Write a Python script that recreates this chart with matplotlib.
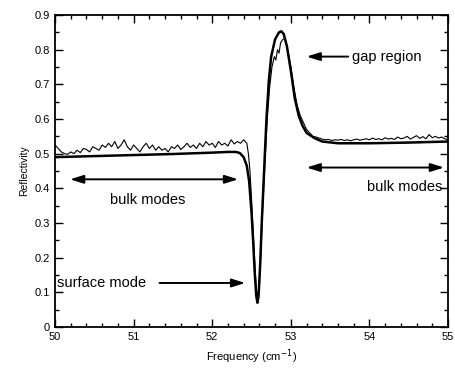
import numpy as np
import matplotlib
matplotlib.use("Agg")
import matplotlib.pyplot as plt
from matplotlib.ticker import MultipleLocator

plt.rcParams['font.family'] = ['Liberation Sans', 'DejaVu Sans']

# Theory curve (smooth)
theory_f = [50.0, 50.5, 51.0, 51.5, 52.0, 52.2, 52.3, 52.35, 52.40, 52.44, 52.47,
            52.50, 52.52, 52.54, 52.56, 52.575, 52.59, 52.61, 52.63, 52.66, 52.69,
            52.72, 52.75, 52.80, 52.85, 52.88, 52.91, 52.95, 53.00, 53.05, 53.10,
            53.15, 53.20, 53.30, 53.40, 53.60, 54.0, 54.5, 55.0]
theory_r = [0.490, 0.493, 0.496, 0.499, 0.503, 0.505, 0.505, 0.502, 0.490, 0.465, 0.42,
            0.33, 0.25, 0.16, 0.09, 0.07, 0.09, 0.18, 0.30, 0.45, 0.60,
            0.71, 0.78, 0.83, 0.850, 0.853, 0.845, 0.81, 0.74, 0.66, 0.61,
            0.58, 0.56, 0.545, 0.535, 0.530, 0.530, 0.532, 0.535]

# Experimental curve, low-frequency segment (50.00 .. 52.40, step 0.04)
exp_low_start, exp_low_step = 50.0, 0.04
exp_low_r = [0.525, 0.515, 0.505, 0.500, 0.498, 0.505, 0.500, 0.510, 0.503, 0.515,
             0.512, 0.505, 0.520, 0.515, 0.510, 0.525, 0.518, 0.530, 0.520, 0.535,
             0.515, 0.525, 0.540, 0.520, 0.510, 0.525, 0.515, 0.505, 0.520, 0.530,
             0.515, 0.525, 0.510, 0.520, 0.510, 0.515, 0.505, 0.520, 0.515, 0.525,
             0.512, 0.520, 0.530, 0.518, 0.525, 0.515, 0.530, 0.520, 0.535, 0.525,
             0.530, 0.518, 0.535, 0.525, 0.530, 0.522, 0.540, 0.528, 0.535, 0.530,
             0.540]

# Experimental curve, resonance segment
exp_mid_f = [52.44, 52.46, 52.48, 52.50, 52.52, 52.54, 52.56, 52.58, 52.60, 52.62,
             52.64, 52.67, 52.70, 52.73, 52.76, 52.79, 52.81, 52.83, 52.85, 52.87,
             52.90, 52.93, 52.96, 53.00, 53.04, 53.08, 53.12, 53.16, 53.20, 53.24,
             53.28]
exp_mid_r = [0.53, 0.50, 0.45, 0.37, 0.28, 0.19, 0.11, 0.09, 0.12, 0.22,
             0.33, 0.47, 0.60, 0.69, 0.75, 0.78, 0.77, 0.80, 0.79, 0.82,
             0.83, 0.83, 0.80, 0.75, 0.69, 0.64, 0.61, 0.59, 0.57, 0.56,
             0.55]

# Experimental curve, high-frequency segment (53.32 .. 55.00, step 0.04)
exp_high_start, exp_high_step = 53.32, 0.04
exp_high_r = [0.548, 0.545, 0.542, 0.540, 0.541, 0.538, 0.540, 0.539, 0.541, 0.538,
              0.540, 0.537, 0.540, 0.542, 0.539, 0.541, 0.543, 0.540, 0.545, 0.541,
              0.543, 0.540, 0.546, 0.542, 0.544, 0.541, 0.548, 0.543, 0.545, 0.550,
              0.542, 0.547, 0.552, 0.544, 0.549, 0.543, 0.555, 0.546, 0.550, 0.545,
              0.548, 0.543, 0.540]

x_ticks = [50, 51, 52, 53, 54, 55]
y_ticks = [0, 0.1, 0.2, 0.3, 0.4, 0.5, 0.6, 0.7, 0.8, 0.9]

exp_low_f = exp_low_start + exp_low_step * np.arange(len(exp_low_r))
exp_high_f = exp_high_start + exp_high_step * np.arange(len(exp_high_r))
exp_f = np.concatenate([exp_low_f, exp_mid_f, exp_high_f])
exp_r = np.concatenate([exp_low_r, exp_mid_r, exp_high_r])

fig = plt.figure(figsize=(4.55, 3.73), dpi=100)
ax = fig.add_axes([0.121, 0.1233, 0.8636, 0.8365])

ax.plot(exp_f, exp_r, color='black', lw=0.8)
ax.plot(theory_f, theory_r, color='black', lw=1.8)

ax.set_xlim(50, 55)
ax.set_ylim(0, 0.9)
ax.set_xticks(x_ticks)
ax.set_yticks(y_ticks)
ax.set_xticklabels([str(t) for t in x_ticks])
ax.set_yticklabels(['0'] + ['%.1f' % t for t in y_ticks[1:]])
ax.xaxis.set_minor_locator(MultipleLocator(0.2))
ax.yaxis.set_minor_locator(MultipleLocator(0.05))
ax.tick_params(which='both', direction='in', top=True, right=True, width=1.0,
               labelsize=8)
ax.tick_params(which='major', length=6)
ax.tick_params(which='minor', length=3)
for s in ax.spines.values():
    s.set_linewidth(1.3)

ax.set_xlabel('Frequency (cm$^{-1}$)', fontsize=8, labelpad=4)
ax.set_ylabel('Reflectivity', fontsize=7.5, labelpad=4)

arrow_kw = dict(arrowstyle='-|>,head_length=0.8,head_width=0.25', color='black', lw=1.4,
                shrinkA=0, shrinkB=0)
dbl_kw = dict(arrowstyle='<|-|>,head_length=0.8,head_width=0.25', color='black', lw=1.4,
              shrinkA=0, shrinkB=0)

ax.annotate('', xy=(53.2, 0.78), xytext=(53.73, 0.78), arrowprops=arrow_kw)
ax.text(53.78, 0.78, 'gap region', fontsize=10.5, va='center', ha='left')

ax.annotate('', xy=(50.19, 0.426), xytext=(52.33, 0.426), arrowprops=dbl_kw)
ax.text(51.18, 0.366, 'bulk modes', fontsize=10.5, va='center', ha='center')

ax.annotate('', xy=(53.2, 0.46), xytext=(54.95, 0.46), arrowprops=dbl_kw)
ax.text(54.45, 0.405, 'bulk modes', fontsize=10.5, va='center', ha='center')

ax.annotate('', xy=(52.42, 0.127), xytext=(51.33, 0.127), arrowprops=arrow_kw)
ax.text(50.03, 0.127, 'surface mode', fontsize=10.5, va='center', ha='left')

fig.savefig('out.png', dpi=100)
